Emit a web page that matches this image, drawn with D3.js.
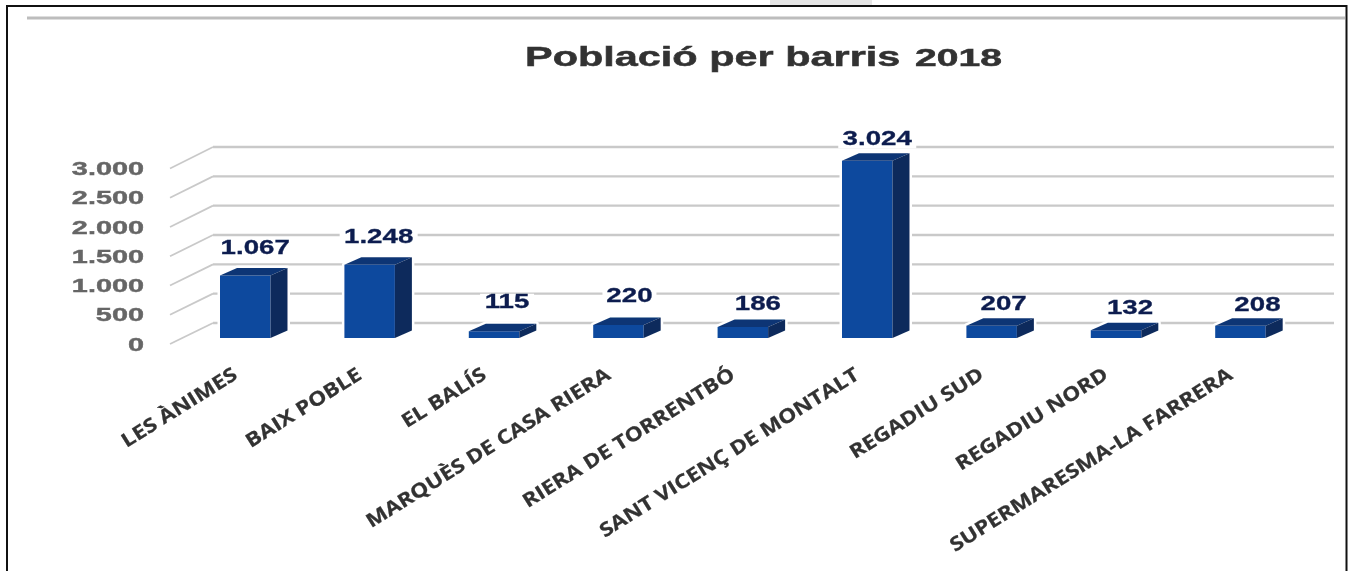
<!DOCTYPE html>
<html><head><meta charset="utf-8">
<script src="https://cdn.jsdelivr.net/npm/d3@7"></script>
<style>html,body{margin:0;background:#fff}svg{display:block}</style></head>
<body><svg id="c" width="1352" height="571"></svg>
<script>
const categories = ["LES ÀNIMES","BAIX POBLE","EL BALÍS","MARQUÈS DE CASA RIERA","RIERA DE TORRENTBÓ","SANT VICENÇ DE MONTALT","REGADIU SUD","REGADIU NORD","SUPERMARESMA-LA FARRERA"];
const values = [1067,1248,115,220,186,3024,207,132,208];
const valueLabels = ["1.067","1.248","115","220","186","3.024","207","132","208"];
const yTicks = [0,500,1000,1500,2000,2500,3000];
const yTickLabels = ["0","500","1.000","1.500","2.000","2.500","3.000"];
const titleMain = "Població per barris";
const titleYear = "2018";
// layout-only nudges of the value labels, relative to each bar
const labelDx = [10,9,13,11,15,10,12,14,17];
const labelDy = [21,22,23,23,17,16,16,16,15];

const svg = d3.select("#c");
const defs = svg.append("defs");
const blur = (id,s)=>defs.append("filter").attr("id",id)
  .attr("x","-10%").attr("y","-10%").attr("width","120%").attr("height","120%")
  .append("feGaussianBlur").attr("stdDeviation",s);
blur("soft",0.7); blur("softer",0.45);

const x = d3.scaleBand().domain(categories).range([220,1265.7]).paddingInner(0.594).paddingOuter(0);
const yFront = d3.scaleLinear().domain([0,3000]).range([338,162.2]);
const yBack = d3.scaleLinear().domain([0,3000]).range([323,147]);
const yFloor = d3.scaleLinear().domain([0,3000]).range([344,168.5]);
const depthX = 17, depthY = 7.5, wallX = 213, floorX = 170, gridEnd = 1334;

// page furniture
svg.append("rect").attr("x",770).attr("y",0).attr("width",102).attr("height",5).attr("fill","#e6e6e6");
svg.append("path").attr("d","M7,571V6H1346.5V571").attr("fill","none").attr("stroke","#111").attr("stroke-width",2);
svg.append("line").attr("x1",27).attr("x2",1345).attr("y1",18).attr("y2",18).attr("stroke","#bdbdbd").attr("stroke-width",3);

// gridlines
const grid = svg.append("g").attr("fill","none").attr("stroke","#c9c9c9");
grid.selectAll(".h").data(yTicks).join("line").attr("class","h")
  .attr("x1",wallX).attr("x2",gridEnd).attr("y1",d=>yBack(d)).attr("y2",d=>yBack(d)).attr("stroke-width",2.4);
grid.selectAll(".d").data(yTicks).join("line").attr("class","d")
  .attr("x1",floorX).attr("x2",wallX).attr("y1",d=>yFloor(d)).attr("y2",d=>yBack(d)).attr("stroke-width",1.8);

function stretched(g, xp, yp, sx, txt, o){
  return g.append("text").attr("transform",`translate(${xp},${yp}) scale(${sx},1)`)
    .attr("text-anchor",o.anchor).attr("font-family",o.family).attr("font-weight","bold")
    .attr("font-size",o.size).attr("fill",o.fill)
    .attr("stroke",o.fill).attr("stroke-width",o.bold||0).text(txt);
}
// y labels
const yg = svg.append("g").attr("filter","url(#soft)");
yTicks.forEach((t,i)=>stretched(yg,144,yFloor(t)+6.6,1.56,yTickLabels[i],{anchor:"end",family:"Liberation Sans",size:18.5,fill:"#666",bold:0.4}));

// bars with a white halo
const bars = svg.append("g").selectAll("g").data(categories).join("g");
const pts = (c,i)=>{const l=x(c),r=l+x.bandwidth(),t=yFront(values[i]),b=yFront(0);return {l,r,t,b};};
bars.append("path").attr("fill","#fff").attr("stroke","#fff").attr("stroke-width",5).attr("stroke-linejoin","round")
  .attr("d",(c,i)=>{const p=pts(c,i);return `M${p.l},${p.b}V${p.t}L${p.l+depthX},${p.t-depthY}H${p.r+depthX}V${p.b-depthY}L${p.r},${p.b}Z`;});
const barFaces = bars.append("g").attr("filter","url(#softer)");
barFaces.append("path").attr("fill","#114a9e")
  .attr("d",(c,i)=>{const p=pts(c,i);return `M${p.l},${p.b}V${p.t}H${p.r}V${p.b}Z`;});
barFaces.append("path").attr("fill","#0d3675")
  .attr("d",(c,i)=>{const p=pts(c,i);return `M${p.l},${p.t}L${p.l+depthX},${p.t-depthY}H${p.r+depthX}L${p.r},${p.t}Z`;});
barFaces.append("path").attr("fill","#0e2c5c")
  .attr("d",(c,i)=>{const p=pts(c,i);return `M${p.r},${p.t}L${p.r+depthX},${p.t-depthY}V${p.b-depthY}L${p.r},${p.b}Z`;});

// value labels
const vg = svg.append("g");
categories.forEach((c,i)=>{
  const cx = x(c)+x.bandwidth()/2+labelDx[i], by = yFront(values[i])-labelDy[i];
  const w = valueLabels[i].length===5?78:54;
  vg.append("rect").attr("x",cx-w/2).attr("y",by-14.5).attr("width",w).attr("height",18).attr("fill","#fff");
});
const vt = svg.append("g").attr("filter","url(#softer)");
categories.forEach((c,i)=>{
  const cx = x(c)+x.bandwidth()/2+labelDx[i], by = yFront(values[i])-labelDy[i];
  stretched(vt,cx,by,1.42,valueLabels[i],{anchor:"middle",family:"Liberation Sans",size:19.5,fill:"#0c1f4f",bold:0.3});
});

// category labels
const cg = svg.append("g").attr("filter","url(#soft)");
categories.forEach(c=>{
  cg.append("text")
    .attr("transform",`translate(${x(c)+15},372) rotate(-32) scale(1.17,1)`)
    .attr("text-anchor","end").attr("dy","0.36em")
    .attr("font-family","Open Sans").attr("font-weight","bold").attr("font-size",19.4)
    .attr("fill","#333").attr("stroke","#333").attr("stroke-width",0.25).text(c);
});

// title
const tg = svg.append("g").attr("filter","url(#softer)");
stretched(tg,525,66,1.48,titleMain,{anchor:"start",family:"Liberation Sans",size:28,fill:"#333",bold:0.5});
stretched(tg,915,66,1.7,titleYear,{anchor:"start",family:"Liberation Sans",size:23,fill:"#333",bold:0.5});
</script></body></html>
